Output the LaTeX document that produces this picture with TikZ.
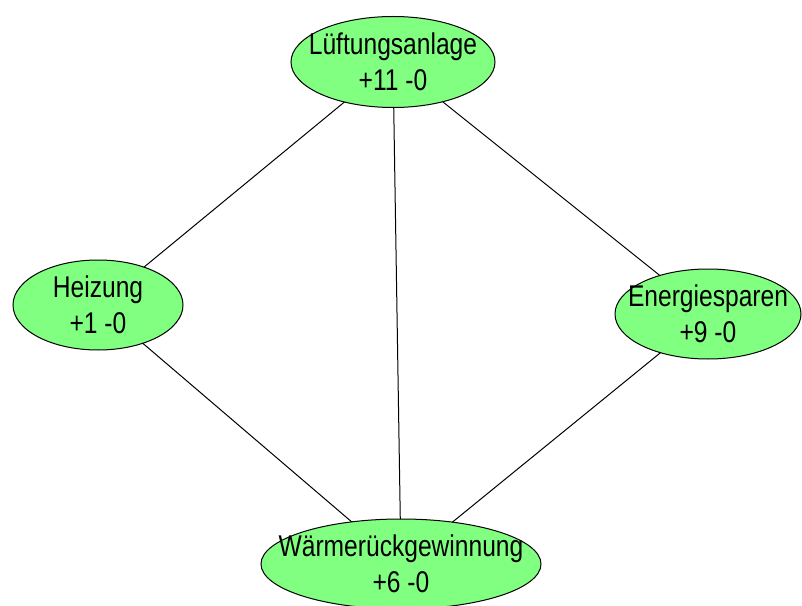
\documentclass[tikz,border=0pt]{standalone}
\usepackage{fontspec}
\setmainfont[FakeStretch=0.82]{Liberation Sans}
\usetikzlibrary{shapes.geometric}
\definecolor{nodegreen}{RGB}{128,255,128}
\begin{document}
\begin{tikzpicture}[x=1bp,y=-1bp,
  topic/.style={ellipse, draw=black, line width=1bp, fill=nodegreen,
    inner sep=0pt, outer sep=0pt},
  topictext/.style={align=center, inner sep=0pt,
    font=\fontsize{30bp}{36bp}\selectfont},
  link/.style={draw=black, line width=1bp}]
  \useasboundingbox (0,0) rectangle (802,606);
  \clip (0,0) rectangle (802,606);

  % topic ellipses with their vote counts
  \node[topic, minimum width=204bp, minimum height=91bp,
    label={[topictext]center:Lüftungsanlage\\+11 -0}] (lueft) at (393,62) {};
  \node[topic, minimum width=170bp, minimum height=90bp,
    label={[topictext]center:Heizung\\+1 -0}] (heiz) at (98,305) {};
  \node[topic, minimum width=186bp, minimum height=90bp,
    label={[topictext]center:Energiesparen\\+9 -0}] (energ) at (708,314) {};
  \node[topic, minimum width=280bp, minimum height=90bp,
    label={[topictext]center:Wärmerückgewinnung\\+6 -0}] (waerme) at (401,564) {};

  % connections between topics
  \draw[link] (lueft) -- (heiz);
  \draw[link] (lueft) -- (waerme);
  \draw[link] (lueft) -- (energ);
  \draw[link] (heiz) -- (waerme);
  \draw[link] (energ) -- (waerme);
\end{tikzpicture}
\end{document}
